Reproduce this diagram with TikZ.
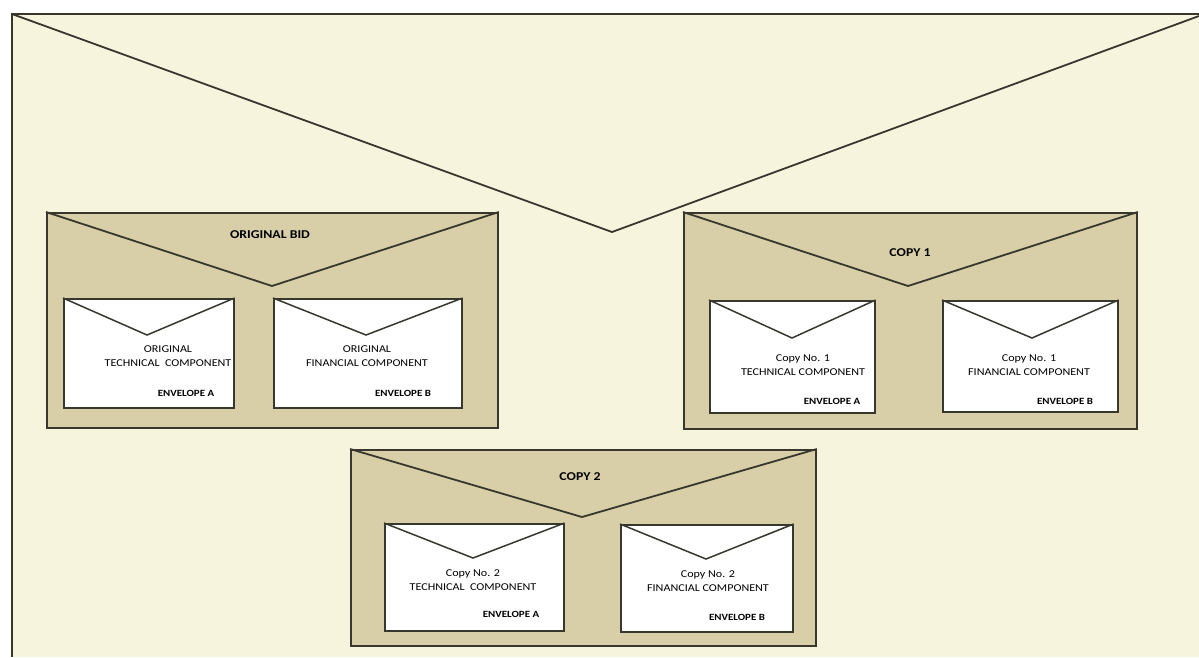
\documentclass[tikz,border=0pt]{standalone}
\usepackage{fontspec}
\setmainfont{Carlito}[FakeStretch=1.15]
\definecolor{paper}{RGB}{247,244,222}
\definecolor{tanfill}{RGB}{216,207,168}
\definecolor{ink}{RGB}{55,55,45}
\begin{document}
\begin{tikzpicture}[x=1pt,y=-1pt, line join=miter,
  outerenv/.style={draw=ink, fill=tanfill, line width=1.8pt, inner sep=0pt, rectangle, anchor=north west},
  innerenv/.style={draw=ink, fill=white, line width=1.6pt, inner sep=0pt, rectangle, anchor=north west},
  flap/.style={draw=ink, line width=1.8pt},
  iflap/.style={draw=ink, line width=1.5pt},
  title/.style={font=\bfseries\fontsize{12}{14}\selectfont, text=black},
  lbl/.style={font=\fontsize{10.5}{14.5}\selectfont, align=center, text=black},
  envl/.style={font=\bfseries\fontsize{9.5}{11}\selectfont, text=black}]
\useasboundingbox (0,0) rectangle (1199,657);
\fill[paper] (12,14) rectangle (1199,657);
% main envelope
\coordinate (M1) at (12,14);
\coordinate (M2) at (1199,14);
\coordinate (M3) at (12,657);
\coordinate (M4) at (1199,16);
\coordinate (MA) at (612,232);
\draw[flap] (M3) -- (M1) -- (M2);
\draw[flap] (M1) -- (MA) -- (M4);

% ORIGINAL BID
\node[outerenv, minimum width=451pt, minimum height=215pt] (ob) at (46,212) {};
\coordinate (obA) at (272,286);
\draw[flap] (ob.north west) -- (obA) -- (ob.north east);
\node[title] (obT) at (270,235) {ORIGINAL BID};
\node[innerenv, minimum width=170pt, minimum height=109pt] (obEA) at (63,298) {};
\coordinate (obEAa) at (147,335);
\draw[iflap] (obEA.north west) -- (obEAa) -- (obEA.north east);
\node[lbl] (obEAt) at (168,356) {ORIGINAL\\TECHNICAL\ \ COMPONENT};
\node[envl] (obEAl) at (186,393) {ENVELOPE A};
\node[innerenv, minimum width=188pt, minimum height=109pt] (obEB) at (273,298) {};
\coordinate (obEBa) at (366,335);
\draw[iflap] (obEB.north west) -- (obEBa) -- (obEB.north east);
\node[lbl] (obEBt) at (367,356) {ORIGINAL\\FINANCIAL COMPONENT};
\node[envl] (obEBl) at (403,393) {ENVELOPE B};

% COPY 1
\node[outerenv, minimum width=453pt, minimum height=216pt] (c1) at (683,212) {};
\coordinate (c1A) at (908,286);
\draw[flap] (c1.north west) -- (c1A) -- (c1.north east);
\node[title] (c1T) at (910,253) {COPY 1};
\node[innerenv, minimum width=165pt, minimum height=112pt] (c1EA) at (709,300) {};
\coordinate (c1EAa) at (792,338);
\draw[iflap] (c1EA.north west) -- (c1EAa) -- (c1EA.north east);
\node[lbl] (c1EAt) at (803,365) {Copy No. 1\\TECHNICAL COMPONENT};
\node[envl] (c1EAl) at (832,401) {ENVELOPE A};
\node[innerenv, minimum width=175pt, minimum height=111pt] (c1EB) at (942,300) {};
\coordinate (c1EBa) at (1032,338);
\draw[iflap] (c1EB.north west) -- (c1EBa) -- (c1EB.north east);
\node[lbl] (c1EBt) at (1029,365) {Copy No. 1\\FINANCIAL COMPONENT};
\node[envl] (c1EBl) at (1065,401) {ENVELOPE B};

% COPY 2
\node[outerenv, minimum width=465pt, minimum height=196pt] (c2) at (350,449) {};
\coordinate (c2A) at (582,517);
\draw[flap] (c2.north west) -- (c2A) -- (c2.north east);
\node[title] (c2T) at (580,477) {COPY 2};
\node[innerenv, minimum width=179pt, minimum height=107pt] (c2EA) at (384,523) {};
\coordinate (c2EAa) at (473,558);
\draw[iflap] (c2EA.north west) -- (c2EAa) -- (c2EA.north east);
\node[lbl] (c2EAt) at (473,580) {Copy No. 2\\TECHNICAL\ \ COMPONENT};
\node[envl] (c2EAl) at (511,614) {ENVELOPE A};
\node[innerenv, minimum width=172pt, minimum height=107pt] (c2EB) at (620,524) {};
\coordinate (c2EBa) at (706,559);
\draw[iflap] (c2EB.north west) -- (c2EBa) -- (c2EB.north east);
\node[lbl] (c2EBt) at (708,581) {Copy No. 2\\FINANCIAL COMPONENT};
\node[envl] (c2EBl) at (737,617) {ENVELOPE B};
\end{tikzpicture}
\end{document}
